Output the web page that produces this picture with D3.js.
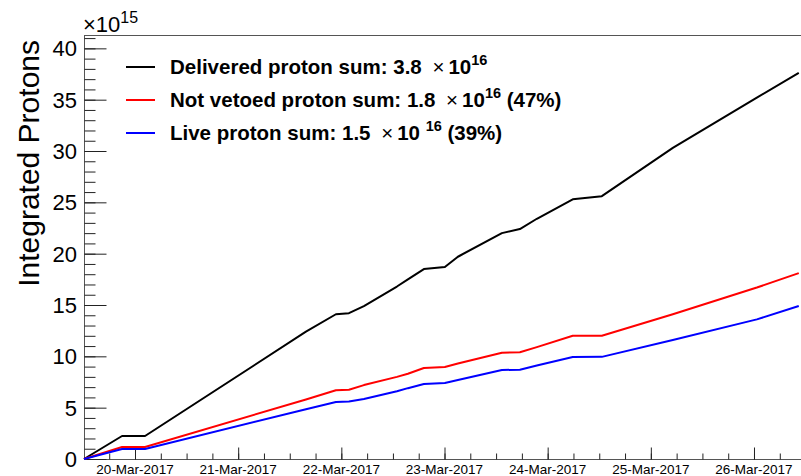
<!DOCTYPE html>
<html>
<head>
<meta charset="utf-8">
<script src="https://cdn.jsdelivr.net/npm/d3@7"></script>
<style>
  body { margin: 0; background: #fff; }
  svg { font-family: "Liberation Sans", Arial, Helvetica, sans-serif; }
</style>
</head>
<body>
<div id="chart"></div>
<script>
// time stamps (UTC) of the points
const times = [
    "2017-03-19T12:08", "2017-03-19T20:59", "2017-03-20T02:20", "2017-03-21T15:46",
    "2017-03-21T22:44", "2017-03-22T01:46", "2017-03-22T05:15", "2017-03-22T12:56",
    "2017-03-22T15:29", "2017-03-22T19:12", "2017-03-23T00:05", "2017-03-23T03:07",
    "2017-03-23T13:21", "2017-03-23T17:32", "2017-03-23T21:29", "2017-03-24T05:50",
    "2017-03-24T12:36", "2017-03-25T05:07", "2017-03-26T00:40", "2017-03-26T10:25"
];
// integrated protons, units of 1e15
const delivered = [0, 2.24, 2.24, 12.4, 14.1, 14.2, 14.9, 16.8, 17.5, 18.5, 18.7, 19.7, 22.0, 22.4, 23.4, 25.3, 25.6, 30.3, 35.2, 37.6];
const notVetoed = [0, 1.17, 1.17, 5.8, 6.7, 6.75, 7.2, 8.0, 8.3, 8.86, 8.96, 9.3, 10.35, 10.4, 10.9, 12.0, 12.0, 14.1, 16.7, 18.1];
const liveSum   = [0, 0.97, 0.97, 4.85, 5.55, 5.6, 5.84, 6.6, 6.9, 7.3, 7.4, 7.7, 8.67, 8.7, 9.1, 9.93, 9.95, 11.6, 13.6, 14.9];

const seriesNames = ["Delivered proton sum: 3.8 ", "Not vetoed proton sum: 1.8 ", "Live proton sum: 1.5 "];
const seriesTails = ["", " (47%)", " (39%)"];
const seriesColors = ["#000000", "#ff0000", "#0000ff"];
const yTicks = [0, 5, 10, 15, 20, 25, 30, 35, 40];

const width = 801, height = 476;
const frame = {left: 84, right: 802, top: 35, bottom: 459};

const svg = d3.select("#chart").append("svg")
    .attr("width", width)
    .attr("height", height);

const parse = d3.utcParse("%Y-%m-%dT%H:%M");
const dates = times.map(parse);

const x = d3.scaleUtc()
    .domain([parse("2017-03-19T12:08"), parse("2017-03-26T11:10")])
    .range([frame.left, frame.right]);

const y = d3.scaleLinear()
    .domain([0, 41.3])
    .range([frame.bottom, frame.top]);

// frame
svg.append("rect")
    .attr("x", frame.left + 0.5)
    .attr("y", frame.top + 0.5)
    .attr("width", frame.right - frame.left)
    .attr("height", frame.bottom - frame.top)
    .attr("fill", "none")
    .attr("stroke", "#555")
    .attr("stroke-width", 1);

// y axis ticks (major + minor), drawn inward
const yAxis = svg.append("g").attr("transform", `translate(${frame.left + 0.5},0)`);
yAxis.append("g")
    .call(d3.axisRight(y).tickValues(d3.range(0, 42, 1)).tickSize(11).tickFormat(""))
    .call(g => g.select(".domain").remove())
    .call(g => g.selectAll("line").attr("stroke", "#222"));
yAxis.append("g")
    .call(d3.axisRight(y).tickValues(yTicks).tickSize(22).tickFormat(""))
    .call(g => g.select(".domain").remove())
    .call(g => g.selectAll("line").attr("stroke", "#222"));
svg.append("g")
    .selectAll("text")
    .data(yTicks)
    .join("text")
        .attr("x", frame.left - 7)
        .attr("y", d => y(d) + 8)
        .attr("text-anchor", "end")
        .attr("font-size", 22)
        .attr("fill", "#000")
        .text(d => d);

// x axis ticks: 6h minor, daily major
const xAxis = svg.append("g").attr("transform", `translate(0,${frame.bottom + 0.5})`);
xAxis.append("g")
    .call(d3.axisTop(x).ticks(d3.utcHour.every(6)).tickSize(6).tickFormat(""))
    .call(g => g.select(".domain").remove())
    .call(g => g.selectAll("line").attr("stroke", "#222"));
xAxis.append("g")
    .call(d3.axisTop(x).ticks(d3.utcDay.every(1)).tickSize(12).tickFormat(""))
    .call(g => g.select(".domain").remove())
    .call(g => g.selectAll("line").attr("stroke", "#222"));
svg.append("g")
    .selectAll("text")
    .data(x.ticks(d3.utcDay.every(1)))
    .join("text")
        .attr("x", d => x(d))
        .attr("y", frame.bottom + 15)
        .attr("text-anchor", "middle")
        .attr("font-size", 13.5)
        .attr("fill", "#000")
        .text(d3.utcFormat("%d-%b-%Y"));

// exponent label
const expo = svg.append("text")
    .attr("x", frame.left - 1)
    .attr("y", 32)
    .attr("font-size", 22)
    .attr("fill", "#000");
expo.append("tspan").text("×10");
expo.append("tspan").attr("font-size", 16).attr("dy", -9).text("15");

// y axis title
svg.append("text")
    .attr("transform", `translate(39,${frame.top + 5}) rotate(-90)`)
    .attr("text-anchor", "end")
    .attr("font-size", 30)
    .attr("fill", "#000")
    .text("Integrated Protons");

// lines
const line = d3.line()
    .x((d, i) => x(dates[i]))
    .y(d => y(d));
[delivered, notVetoed, liveSum].forEach((vals, k) => {
    svg.append("path")
        .attr("d", line(vals))
        .attr("fill", "none")
        .attr("stroke", seriesColors[k])
        .attr("stroke-width", 2)
        .attr("stroke-linejoin", "round");
});

// legend
const legend = svg.append("g");
seriesNames.forEach((name, k) => {
    const yy = 67 + k * 33;
    legend.append("line")
        .attr("x1", 126).attr("x2", 155)
        .attr("y1", yy).attr("y2", yy)
        .attr("stroke", seriesColors[k])
        .attr("stroke-width", 2);
    const t = legend.append("text")
        .attr("x", 170)
        .attr("y", yy + 7)
        .attr("font-size", 20.5)
        .attr("font-weight", "bold")
        .attr("fill", "#000");
    t.append("tspan").text(name);
    t.append("tspan").attr("font-weight", "normal").attr("dx", 5).text("×");
    t.append("tspan").attr("dx", 4).text(k === 2 ? "10 " : "10");
    t.append("tspan").attr("font-size", 14.5).attr("dy", -9).text(k === 2 ? " 16" : "16");
    t.append("tspan").attr("dy", 9).text(seriesTails[k]);
});
</script>
</body>
</html>
